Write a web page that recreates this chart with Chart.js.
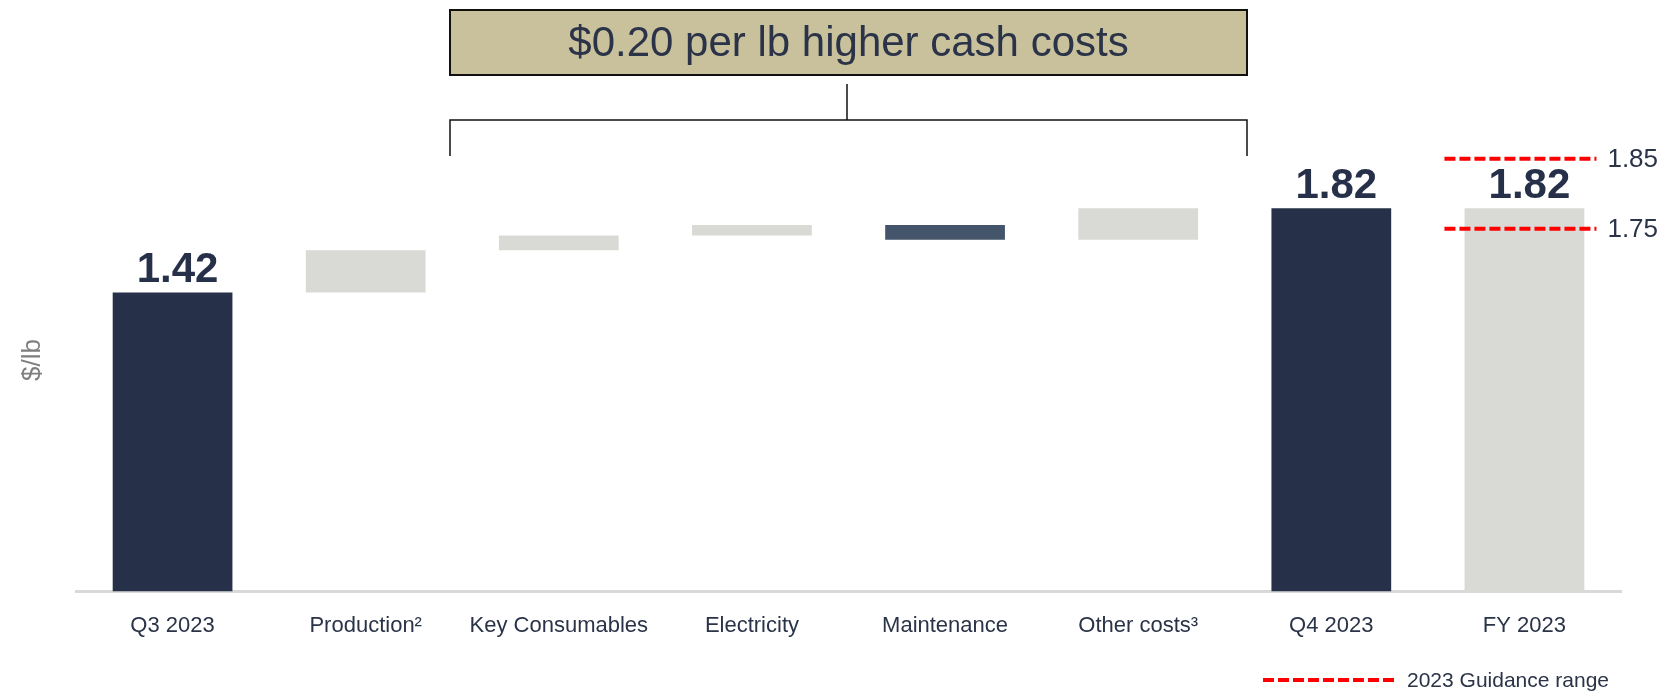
<!DOCTYPE html>
<html>
<head>
<meta charset="utf-8">
<title>Cash cost bridge Q3 to Q4 2023</title>
<script src="https://cdn.jsdelivr.net/npm/chart.js@4.4.1/dist/chart.umd.min.js"></script>
<style>
    html, body { margin: 0; padding: 0; background: #ffffff; }
    #wrap { width: 1664px; height: 693px; }
</style>
</head>
<body>
<div id="wrap"><canvas id="bridge" width="1664" height="693"></canvas></div>
<script>
// ---------------------------------------------------------------------------
// Data
// ---------------------------------------------------------------------------
const categories = ['Q3 2023', 'Production²', 'Key Consumables', 'Electricity', 'Maintenance', 'Other costs³', 'Q4 2023', 'FY 2023'];
const barLow  = [0,    1.42, 1.62, 1.69, 1.74, 1.67, 0,    0];
const barHigh = [1.42, 1.62, 1.69, 1.74, 1.67, 1.82, 1.82, 1.82];
const totalLabels = ['1.42', '', '', '', '', '', '1.82', '1.82'];

const guidanceValues = [1.85, 1.75];
const guidanceLabels = ['1.85', '1.75'];

const headline = '$0.20 per lb higher cash costs';
const legendText = '2023 Guidance range';

// ---------------------------------------------------------------------------
// Colors
// ---------------------------------------------------------------------------
const NAVY = '#263048';
const SLATE = '#44546a';
const STONE = '#d9dad5';
const TEXT = '#2a3347';
const RED = '#ff0000';
const barColors = [NAVY, STONE, STONE, STONE, SLATE, STONE, NAVY, STONE];

const FONT = '"Liberation Sans", Arial, sans-serif';

// ---------------------------------------------------------------------------
// Annotations (labels, headline box, bracket, guidance range, legend)
// ---------------------------------------------------------------------------
function dashed(ctx, x1, x2, y) {
    ctx.save();
    ctx.strokeStyle = RED;
    ctx.lineWidth = 4;
    ctx.setLineDash([11, 4]);
    ctx.beginPath();
    ctx.moveTo(x1, y);
    ctx.lineTo(x2, y);
    ctx.stroke();
    ctx.restore();
}

const annotations = {
    id: 'annotations',
    afterDatasetsDraw(chart) {
        const { ctx, scales } = chart;
        const x = scales.x, y = scales.y, yG = scales.yG;

        // bar totals
        ctx.save();
        ctx.fillStyle = NAVY;
        ctx.font = `bold 42px ${FONT}`;
        ctx.textAlign = 'center';
        ctx.textBaseline = 'alphabetic';
        totalLabels.forEach((t, i) => {
            if (!t) return;
            ctx.fillText(t, x.getPixelForValue(i) + 5, y.getPixelForValue(barHigh[i]) - 10);
        });
        ctx.restore();

        // guidance range on FY bar
        const fx = x.getPixelForValue(7);
        ctx.save();
        ctx.fillStyle = TEXT;
        ctx.font = `26px ${FONT}`;
        ctx.textBaseline = 'middle';
        guidanceValues.forEach((v, i) => {
            const gy = yG.getPixelForValue(v);
            dashed(ctx, fx - 80, fx + 72, gy);
            ctx.fillText(guidanceLabels[i], fx + 83, gy + 1);
        });
        ctx.restore();

        // headline box
        const bx1 = 450, bx2 = 1247;
        ctx.save();
        ctx.fillStyle = '#c8c19c';
        ctx.strokeStyle = '#111111';
        ctx.lineWidth = 2;
        ctx.fillRect(bx1, 10, bx2 - bx1, 65);
        ctx.strokeRect(bx1, 10, bx2 - bx1, 65);
        ctx.fillStyle = TEXT;
        ctx.font = `42px ${FONT}`;
        ctx.textAlign = 'center';
        ctx.textBaseline = 'middle';
        ctx.fillText(headline, (bx1 + bx2) / 2, 44);

        // bracket
        const mid = 847;
        ctx.strokeStyle = '#111111';
        ctx.lineWidth = 1.5;
        ctx.beginPath();
        ctx.moveTo(mid, 84); ctx.lineTo(mid, 120);
        ctx.moveTo(bx1, 156); ctx.lineTo(bx1, 120); ctx.lineTo(bx2, 120); ctx.lineTo(bx2, 156);
        ctx.stroke();
        ctx.restore();

        // y axis unit
        ctx.save();
        ctx.translate(33, 360);
        ctx.rotate(-Math.PI / 2);
        ctx.fillStyle = '#7f7f7f';
        ctx.font = `26px ${FONT}`;
        ctx.textAlign = 'center';
        ctx.textBaseline = 'middle';
        ctx.fillText('$/lb', 0, 0);
        ctx.restore();

        // legend
        dashed(ctx, 1263, 1398, 680);
        ctx.save();
        ctx.fillStyle = TEXT;
        ctx.font = `21px ${FONT}`;
        ctx.textBaseline = 'middle';
        ctx.fillText(legendText, 1407, 681);
        ctx.restore();
    }
};

// ---------------------------------------------------------------------------
// Chart
// ---------------------------------------------------------------------------
new Chart(document.getElementById('bridge'), {
    type: 'bar',
    data: {
        labels: categories,
        datasets: [{
            data: barLow.map((lo, i) => [lo, barHigh[i]]),
            backgroundColor: barColors,
            borderWidth: 0,
            borderSkipped: false,
            barPercentage: 0.62,
            categoryPercentage: 1,
        }],
    },
    options: {
        responsive: false,
        animation: false,
        devicePixelRatio: 1,
        layout: { padding: { left: 76, right: 43, top: 65, bottom: 41 } },
        plugins: {
            legend: { display: false },
            tooltip: { enabled: false },
        },
        scales: {
            x: {
                grid: { display: false },
                border: { display: true, color: '#d9d9d9', width: 3 },
                ticks: { color: TEXT, font: { family: FONT, size: 22 }, padding: 13, maxRotation: 0, autoSkip: false },
            },
            y: { display: false, min: 0, max: 2.5 },
            yG: { display: false, position: 'right', min: 1.232, max: 1.984 },
        },
    },
    plugins: [annotations],
});
</script>
</body>
</html>
